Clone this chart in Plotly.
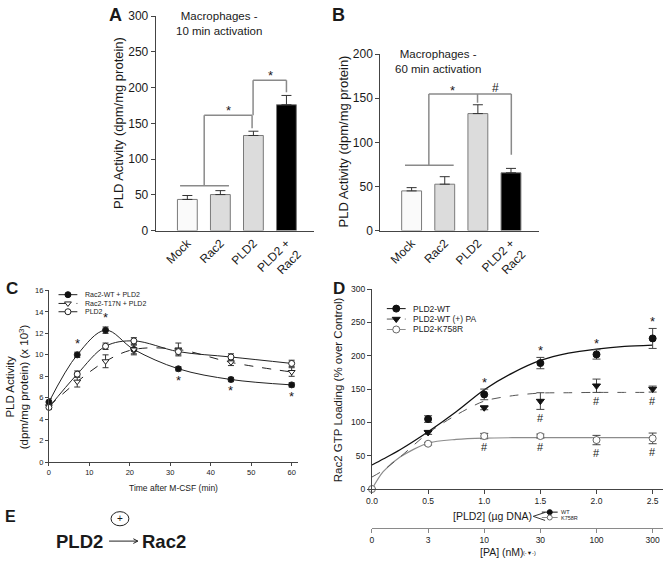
import plotly.graph_objects as go

W, H = 664, 564
FONT = "Liberation Sans, Arial, Helvetica, sans-serif"
INK = "#1a1a1a"
AXIS = "#444444"

# ---------------- data ----------------
# Panel A: Macrophages - 10 min activation
a_categories = ["Mock", "Rac2", "PLD2", "PLD2 +<br>Rac2"]
a_values = [43.6, 50.4, 133, 176]
a_errors = [5.5, 5.5, 6, 13]
# Panel B: Macrophages - 60 min activation
b_categories = ["Mock", "Rac2", "PLD2", "PLD2 +<br>Rac2"]
b_values = [45, 52.6, 132.6, 65.5]
b_errors = [3.7, 8.5, 10, 5]
bar_fill = ["#fafafa", "#dcdcdc", "#dcdcdc", "#000000"]

# Panel C: time course (x 10^3 dpm/mg protein)
c_time = [0, 7, 14, 21, 32, 45, 60]
c_wt = [5.6, 10.0, 12.3, 10.5, 8.7, 7.7, 7.2]
c_wt_err = [0.3, 0.25, 0.3, 0.4, 0.2, 0.2, 0.2]
c_t17n = [5.2, 7.5, 9.4, 10.5, 10.5, 9.3, 8.4]
c_t17n_err = [0.2, 0.5, 0.6, 0.5, 0.6, 0.3, 0.4]
c_pld2 = [5.1, 8.2, 10.8, 11.3, 10.3, 9.8, 9.2]
c_pld2_err = [0.2, 0.3, 0.3, 0.3, 0.3, 0.3, 0.3]
c_star_idx = [1, 2, 4, 5, 6]
c_star_side = [1, 1, -1, -1, -1]
c_legend = ["Rac2-WT + PLD2", "Rac2-T17N + PLD2", "PLD2"]

# Panel D: Rac2 GTP loading
d_dna_ticks = [0.0, 0.5, 1.0, 1.5, 2.0, 2.5]
d_pa_ticktext = ["0", "3", "10", "30", "100", "300"]
d_wt_x = [0.5, 1.0, 1.5, 2.0, 2.5]
d_wt = [105, 142, 189, 202, 226]
d_wt_err = [5, 8, 8.5, 7, 15]
d_pa_x = [0.5, 1.0, 1.5, 2.0, 2.5]
d_pa = [85, 122, 132, 155, 150]
d_pa_err = [3, 3, 12.5, 10, 4.5]
d_k_x = [0.0, 0.5, 1.0, 1.5, 2.0, 2.5]
d_k = [0, 68, 79.5, 79.5, 73.5, 76]
d_k_err = [0, 2, 4, 3, 7, 8]
d_fit_x = [0, 0.1, 0.25, 0.5, 0.75, 1.0, 1.25, 1.5, 1.75, 2.0, 2.25, 2.5]
d_wt_fit = [36, 45, 59, 86, 116, 149, 174, 193, 204, 210, 214, 216]
d_pa_fit = [18, 28, 48, 84, 111, 132, 140, 144, 144.5, 145, 145, 145]
d_k_fit = [0, 26, 48, 69, 74.5, 76.5, 77, 77, 77, 77, 77, 77]
d_star_idx = [1, 2, 3, 4]
d_pa_hash_idx = [2, 3, 4]
d_k_hash_idx = [2, 3, 4, 5]
d_legend = ["PLD2-WT", "PLD2-WT (+) PA", "PLD2-K758R"]


def px(x):
    return x / W


def py(y):
    return 1 - y / H


fig = go.Figure()
annotations = []
shapes = []


def txt(x, y, s, size, bold=False, xanchor="center", yanchor="middle", angle=0, color=INK):
    annotations.append(dict(x=px(x), y=py(y), xref="paper", yref="paper",
                            text=f"<b>{s}</b>" if bold else s, showarrow=False,
                            font=dict(size=size, family=FONT, color=color),
                            xanchor=xanchor, yanchor=yanchor, textangle=angle))


def dtxt(x, y, s, size, xr, yr):
    annotations.append(dict(x=x, y=y, xref=xr, yref=yr, text=s, showarrow=False,
                            font=dict(size=size, family=FONT, color=INK),
                            xanchor="center", yanchor="middle"))


def seg(x0, y0, x1, y1, xr, yr, color="#8a8a8a", width=1.5):
    shapes.append(dict(type="line", x0=x0, y0=y0, x1=x1, y1=y1, xref=xr, yref=yr,
                       line=dict(color=color, width=width)))


# ---------------- A & B bars ----------------
for vals, errs, xa, ya in [(a_values, a_errors, "x", "y"), (b_values, b_errors, "x2", "y2")]:
    fig.add_trace(go.Bar(
        x=list(range(len(vals))), y=vals, width=0.6,
        marker=dict(color=bar_fill, line=dict(color="#7a7a7a", width=1)),
        error_y=dict(type="data", symmetric=False, array=errs, arrayminus=[0] * len(errs),
                     color="#333333", thickness=1, width=5),
        xaxis=xa, yaxis=ya, showlegend=False, hoverinfo="skip"))

# A brackets
seg(-0.22, 62.7, 1.26, 62.7, "x", "y")
seg(0.51, 62.7, 0.51, 161.3, "x", "y")
seg(0.51, 161.3, 1.96, 161.3, "x", "y")
seg(1.96, 161.3, 1.96, 143, "x", "y")
seg(1.99, 161.3, 1.99, 210.4, "x", "y")
seg(1.99, 210.4, 3.0, 210.4, "x", "y")
seg(3.0, 210.4, 3.0, 193.6, "x", "y")
dtxt(1.26, 168, "*", 13, "x", "y")
dtxt(2.52, 217, "*", 13, "x", "y")

# B brackets
seg(-0.2, 74, 1.27, 74, "x2", "y2")
seg(0.52, 74, 0.52, 154.7, "x2", "y2")
seg(0.52, 154.7, 3.01, 154.7, "x2", "y2")
seg(1.99, 154.7, 1.99, 145, "x2", "y2")
seg(3.01, 154.7, 3.01, 86, "x2", "y2")
dtxt(1.24, 159, "*", 13, "x2", "y2")
dtxt(2.54, 162, "#", 12, "x2", "y2")

# ---------------- C time course ----------------
c_series = [
    (c_wt, c_wt_err, "circle", "#111111", "solid"),
    (c_t17n, c_t17n_err, "triangle-down", "#ffffff", "dash"),
    (c_pld2, c_pld2_err, "circle", "#ffffff", "solid"),
]
for yv, ev, sym, fill, dash in c_series:
    fig.add_trace(go.Scatter(
        x=c_time, y=yv, mode="lines+markers",
        line=dict(color="#222222", width=1, shape="spline", smoothing=1, dash=dash),
        marker=dict(symbol=sym, size=6, color=fill, line=dict(color="#222222", width=1)),
        error_y=dict(type="data", array=ev, color="#333333", thickness=1, width=3),
        cliponaxis=False, xaxis="x3", yaxis="y3", showlegend=False, hoverinfo="skip"))
for i, s in zip(c_star_idx, c_star_side):
    dtxt(c_time[i], c_wt[i] + s * (c_wt_err[i] + 0.85), "*", 13, "x3", "y3")

# ---------------- D GTP loading ----------------
fig.add_trace(go.Scatter(x=d_fit_x, y=d_k_fit, mode="lines",
                         line=dict(color="#8c8c8c", width=1.2, shape="spline", smoothing=0.8),
                         xaxis="x4", yaxis="y4", showlegend=False, hoverinfo="skip"))
fig.add_trace(go.Scatter(x=d_fit_x, y=d_pa_fit, mode="lines",
                         line=dict(color="#555555", width=1, shape="spline", smoothing=0.8, dash="dash"),
                         xaxis="x4", yaxis="y4", showlegend=False, hoverinfo="skip"))
fig.add_trace(go.Scatter(x=d_fit_x, y=d_wt_fit, mode="lines",
                         line=dict(color="#111111", width=1.3, shape="spline", smoothing=0.8),
                         xaxis="x4", yaxis="y4", showlegend=False, hoverinfo="skip"))
d_points = [
    (d_k_x, d_k, d_k_err, "circle", "#ffffff", "#666666"),
    (d_pa_x, d_pa, d_pa_err, "triangle-down", "#111111", "#111111"),
    (d_wt_x, d_wt, d_wt_err, "circle", "#111111", "#111111"),
]
for xv, yv, ev, sym, fill, lc in d_points:
    fig.add_trace(go.Scatter(
        x=xv, y=yv, mode="markers",
        marker=dict(symbol=sym, size=7, color=fill, line=dict(color=lc, width=1)),
        error_y=dict(type="data", array=ev, color="#444444", thickness=1, width=4),
        cliponaxis=False, xaxis="x4", yaxis="y4", showlegend=False, hoverinfo="skip"))
# dummy trace for the secondary [PA] axis
fig.add_trace(go.Scatter(x=d_dna_ticks, y=[None] * len(d_dna_ticks), mode="markers",
                         xaxis="x5", yaxis="y4", showlegend=False, hoverinfo="skip"))
for i in d_star_idx:
    dtxt(d_wt_x[i], d_wt[i] + d_wt_err[i] + 10, "*", 13, "x4", "y4")
for i in d_pa_hash_idx:
    dtxt(d_pa_x[i], d_pa[i] - d_pa_err[i] - 13, "#", 11, "x4", "y4")
for i in d_k_hash_idx:
    dtxt(d_k_x[i], d_k[i] - d_k_err[i] - 13, "#", 11, "x4", "y4")


# ---------------- legends (pixel overlay axes) ----------------
def legend_row(x0, x1, y, dash, lcolor, symbol, mfill, mline, msize, lwidth=1):
    fig.add_trace(go.Scatter(x=[x0, x1], y=[y, y], mode="lines",
                             line=dict(color=lcolor, width=lwidth, dash=dash),
                             xaxis="x9", yaxis="y9", showlegend=False, hoverinfo="skip"))
    fig.add_trace(go.Scatter(x=[(x0 + x1) / 2], y=[y], mode="markers",
                             marker=dict(symbol=symbol, size=msize, color=mfill,
                                         line=dict(color=mline, width=1)),
                             xaxis="x9", yaxis="y9", showlegend=False, hoverinfo="skip"))


c_rows = [295, 304, 312.5]
c_sty = [("solid", "#222222", "circle", "#111111", "#111111"),
         ("dash", "#222222", "triangle-down", "#ffffff", "#222222"),
         ("solid", "#222222", "circle", "#ffffff", "#222222")]
for r, (dash, lc, sym, mf, ml), name in zip(c_rows, c_sty, c_legend):
    legend_row(53, 72, r, dash, lc, sym, mf, ml, 6)
    txt(78, r, name, 7, xanchor="left")

d_rows = [309.3, 320, 330.7]
d_sty = [("solid", "#111111", "circle", "#111111", "#111111"),
         ("dash", "#555555", "triangle-down", "#111111", "#111111"),
         ("solid", "#8c8c8c", "circle", "#ffffff", "#666666")]
for r, (dash, lc, sym, mf, ml), name in zip(d_rows, d_sty, d_legend):
    legend_row(384.3, 403.3, r, dash, lc, sym, mf, ml, 7)
    txt(408.3, r, name, 8.5, xanchor="left")

# mini legend inside the D x-axis title
legend_row(540.7, 556.7, 518, "solid", "#111111", "circle", "#111111", "#111111", 5)
legend_row(540.7, 556.7, 523.5, "solid", "#8c8c8c", "circle", "#ffffff", "#666666", 5)
txt(558.5, 517.5, "WT", 5.5, xanchor="left")
txt(558.5, 524, "K758R", 5.5, xanchor="left")
seg(px(544), py(518.3), px(532), py(522.3), "paper", "paper", "#333333", 1)
seg(px(532), py(522.3), px(544), py(526.5), "paper", "paper", "#333333", 1)

# ---------------- text ----------------
txt(110, 8, "A", 18, bold=True)
txt(336, 8, "B", 18, bold=True)
txt(6, 289, "C", 17, bold=True)
txt(336, 289, "D", 17, bold=True)
txt(5, 522, "E", 16, bold=True)

txt(215, 17, "Macrophages -<br>10 min activation", 11.5)
txt(436, 56, "Macrophages -<br>60 min activation", 11.5)

txt(113, 119, "PLD Activity (dpm/mg protein)", 13, angle=-90)
txt(341, 138, "PLD Activity (dpm/mg protein)", 13, angle=-90)
txt(11, 389, "PLD Activity<br>(dpm/mg protein) (x 10<sup>3</sup>)", 11.5, angle=-90)
txt(335, 392, "Rac2 GTP Loading (% over Control)", 11.5, angle=-90)
txt(169, 493, "Time after M-CSF (min)", 8.5)
txt(491, 522.3, "[PLD2] (µg DNA)", 10.5)
txt(501, 559.3, "[PA] (nM)", 10.5)
txt(528.5, 559.8, "(-▼-)", 5.5)

# ---------------- E diagram ----------------
txt(74, 548, "PLD2", 18.5, bold=True)
txt(159, 548, "Rac2", 18.5, bold=True)
seg(px(104), py(547.7), px(133), py(547.7), "paper", "paper", "#222222", 1)
seg(px(133), py(547.7), px(128.5), py(545.3), "paper", "paper", "#222222", 1)
seg(px(133), py(547.7), px(128.5), py(550.1), "paper", "paper", "#222222", 1)
shapes.append(dict(type="circle", xref="paper", yref="paper", x0=px(106), x1=px(124),
                   y0=py(532), y1=py(517.5), line=dict(color="#222222", width=1)))
txt(115, 524.7, "+", 10)


# ---------------- layout ----------------
def xax(domain, rng, tickvals, ticktext, fs, anchor, angle=0, ticks="outside", ticklen=4):
    return dict(domain=domain, range=rng, tickvals=tickvals, ticktext=ticktext, tickangle=angle,
                ticks=ticks, ticklen=ticklen, tickwidth=1, tickcolor=AXIS, showline=True,
                linecolor=AXIS, linewidth=1, showgrid=False, zeroline=False,
                tickfont=dict(size=fs, family=FONT, color=INK), anchor=anchor, fixedrange=True)


def yax(domain, rng, dtick, fs, anchor, ticklen=4):
    return dict(domain=domain, range=rng, dtick=dtick, ticks="outside", ticklen=ticklen, tickwidth=1,
                tickcolor=AXIS, showline=True, linecolor=AXIS, linewidth=1, showgrid=False,
                zeroline=False, tickfont=dict(size=fs, family=FONT, color=INK), anchor=anchor,
                fixedrange=True)


fig.update_layout(
    width=W, height=H, margin=dict(l=0, r=0, t=0, b=0),
    paper_bgcolor="white", plot_bgcolor="rgba(0,0,0,0)", showlegend=False,
    font=dict(family=FONT, color=INK),
    xaxis=xax([px(151), px(311)], [-0.96, 3.84], [0, 1, 2, 3], a_categories, 12, "y", angle=-45, ticks=""),
    yaxis=yax([py(229.3), py(9.3)], [0, 300], 50, 12, "x"),
    xaxis2=xax([px(377.7), px(538)], [-0.946, 3.85], [0, 1, 2, 3], b_categories, 12, "y2", angle=-45, ticks=""),
    yaxis2=yax([py(229.3), py(48.3)], [0, 200], 50, 12, "x2"),
    xaxis3=xax([px(43.3), px(295)], [0, 61.65], [0, 10, 20, 30, 40, 50, 60],
               ["0", "10", "20", "30", "40", "50", "60"], 7.5, "y3", ticklen=3),
    yaxis3=yax([py(466.7), py(290.7)], [0, 16], 2, 7.5, "x3", ticklen=3),
    xaxis4=xax([px(369.3), px(663.3)], [0, 2.595], d_dna_ticks, [f"{v:.1f}" for v in d_dna_ticks], 8.5, "y4"),
    yaxis4=yax([py(494.3), py(289.3)], [0, 300], 50, 8.5, "x4"),
    xaxis5=dict(overlaying="x4", anchor="free", position=py(534), range=[0, 2.595], tickvals=d_dna_ticks,
                ticktext=d_pa_ticktext, ticks="outside", ticklen=4, tickcolor="#888888", showline=True,
                linecolor="#8a8a8a", linewidth=1, showgrid=False, zeroline=False,
                tickfont=dict(size=8.5, family=FONT, color=INK), fixedrange=True),
    xaxis9=dict(domain=[0, 1], range=[0, W], visible=False, fixedrange=True, anchor="y9"),
    yaxis9=dict(domain=[0, 1], range=[H, 0], visible=False, fixedrange=True, anchor="x9"),
    annotations=annotations, shapes=shapes,
)

fig.write_html("out.html", config={"displayModeBar": False},
               post_script="document.body.style.margin='0';")
